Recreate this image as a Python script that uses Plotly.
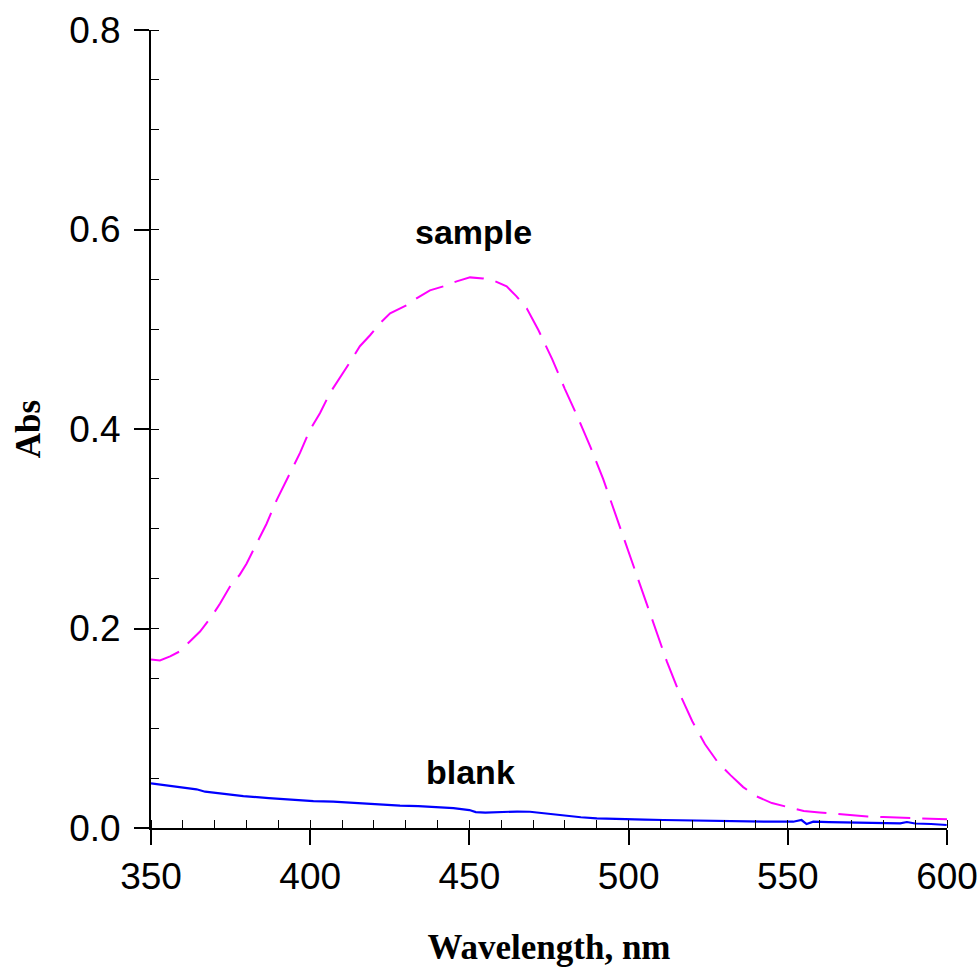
import plotly.graph_objects as go

# Sample spectrum (wavelength nm, absorbance)
sample_wl = [350, 352.8, 356, 359, 362.2, 365.4, 369, 371.7, 374.8, 377.9, 380, 383.2, 386.3,
             389.5, 392.6, 396.8, 399.9, 403.1, 406.2, 410.4, 413.5, 415.6, 418.8, 421.9, 425.1,
             430.3, 433.4, 437.6, 441.8, 446, 450.2, 454.3, 457.5, 461.7, 464.8, 468, 471.7,
             476, 480, 484, 488, 492, 496, 500, 504, 508, 512, 516, 520, 524, 528, 532, 536,
             540, 545, 550, 555, 560, 565, 570, 575, 580, 585, 590, 595, 600]
sample_abs = [0.169, 0.168, 0.172, 0.177, 0.187, 0.197, 0.212, 0.225, 0.242, 0.254, 0.265, 0.285,
              0.305, 0.329, 0.349, 0.376, 0.399, 0.416, 0.436, 0.456, 0.472, 0.483, 0.494, 0.506,
              0.516, 0.524, 0.531, 0.539, 0.543, 0.548, 0.552, 0.551, 0.549, 0.543, 0.533, 0.521,
              0.499, 0.470, 0.440, 0.412, 0.382, 0.350, 0.313, 0.278, 0.240, 0.203, 0.167, 0.135,
              0.107, 0.084, 0.066, 0.053, 0.041, 0.032, 0.025, 0.021, 0.017, 0.0155, 0.014,
              0.0125, 0.0115, 0.011, 0.0105, 0.010, 0.0093, 0.0087]

# Blank spectrum
blank_wl = [350, 357, 364.3, 367, 373, 379, 387, 394.7, 401, 407.2, 414, 420.9, 428.2, 434,
            440, 445, 450, 452, 455, 460.2, 465, 469, 475, 480.5, 485, 490, 498.3, 505, 510.9,
            518, 524.5, 535, 545, 551.7, 554.3, 555.9, 558, 563, 569.5, 578, 585.3, 587.4,
            590, 595, 599.9]
blank_abs = [0.0448, 0.042, 0.0388, 0.0364, 0.034, 0.032, 0.030, 0.028, 0.027, 0.0264, 0.025,
             0.0238, 0.0224, 0.022, 0.021, 0.020, 0.018, 0.016, 0.0155, 0.0163, 0.0165, 0.0163,
             0.014, 0.012, 0.0108, 0.0097, 0.0087, 0.0083, 0.008, 0.0075, 0.007, 0.0063, 0.0063,
             0.0063, 0.008, 0.004, 0.0063, 0.0058, 0.0053, 0.005, 0.0047, 0.006, 0.0045, 0.004,
             0.003]

x_ticks = [350, 400, 450, 500, 550, 600]
y_ticks = [0.0, 0.2, 0.4, 0.6, 0.8]
y_tick_labels = ["0.0", "0.2", "0.4", "0.6", "0.8"]

fig = go.Figure()
fig.add_trace(go.Scatter(x=sample_wl, y=sample_abs, mode="lines", name="sample",
                         line=dict(color="#FF00FF", width=2, dash="30px,12px")))
fig.add_trace(go.Scatter(x=blank_wl, y=blank_abs, mode="lines", name="blank",
                         line=dict(color="#0000FF", width=2.2)))

fig.add_annotation(x=451.3, y=0.598, text="<b>sample</b>", showarrow=False,
                   font=dict(family="Liberation Sans", size=34, color="black"),
                   xanchor="center", yanchor="middle")
fig.add_annotation(x=450.3, y=0.0566, text="<b>blank</b>", showarrow=False,
                   font=dict(family="Liberation Sans", size=34, color="black"),
                   xanchor="center", yanchor="middle")

fig.update_layout(
    width=979, height=967,
    margin=dict(l=151, r=32, t=30, b=139, autoexpand=False),
    plot_bgcolor="white", paper_bgcolor="white",
    showlegend=False,
    font=dict(family="Liberation Sans", size=37, color="black"),
)
fig.update_xaxes(
    range=[350, 600], tickvals=x_ticks, ticks="outside", ticklen=15, tickwidth=1.5,
    tickcolor="black", showline=True, linecolor="black", linewidth=2, showgrid=False,
    zeroline=False, automargin=False, ticklabeloverflow="allow",
    tickfont=dict(family="Liberation Sans", size=37),
    minor=dict(dtick=10, ticks="inside", ticklen=8, tickwidth=1.2, tickcolor="black", showgrid=False),
    title=dict(text="<b>Wavelength, nm</b>", font=dict(family="Liberation Serif", size=35),
               standoff=46),
)
fig.update_yaxes(
    range=[0, 0.8], tickvals=y_ticks, ticktext=y_tick_labels, ticks="outside", ticklen=15,
    tickwidth=1.5, tickcolor="black", showline=True, linecolor="black", linewidth=2,
    showgrid=False, zeroline=False, automargin=False, ticklabeloverflow="allow",
    ticklabelstandoff=6,
    tickfont=dict(family="Liberation Sans", size=37),
    minor=dict(dtick=0.05, ticks="inside", ticklen=8, tickwidth=1.2, tickcolor="black", showgrid=False),
    title=dict(text="<b>Abs</b>", font=dict(family="Liberation Serif", size=35), standoff=18),
)

fig.write_html("out.html",
               config={"displayModeBar": False},
               post_script="document.body.style.margin='0';document.body.style.overflow='hidden';")
